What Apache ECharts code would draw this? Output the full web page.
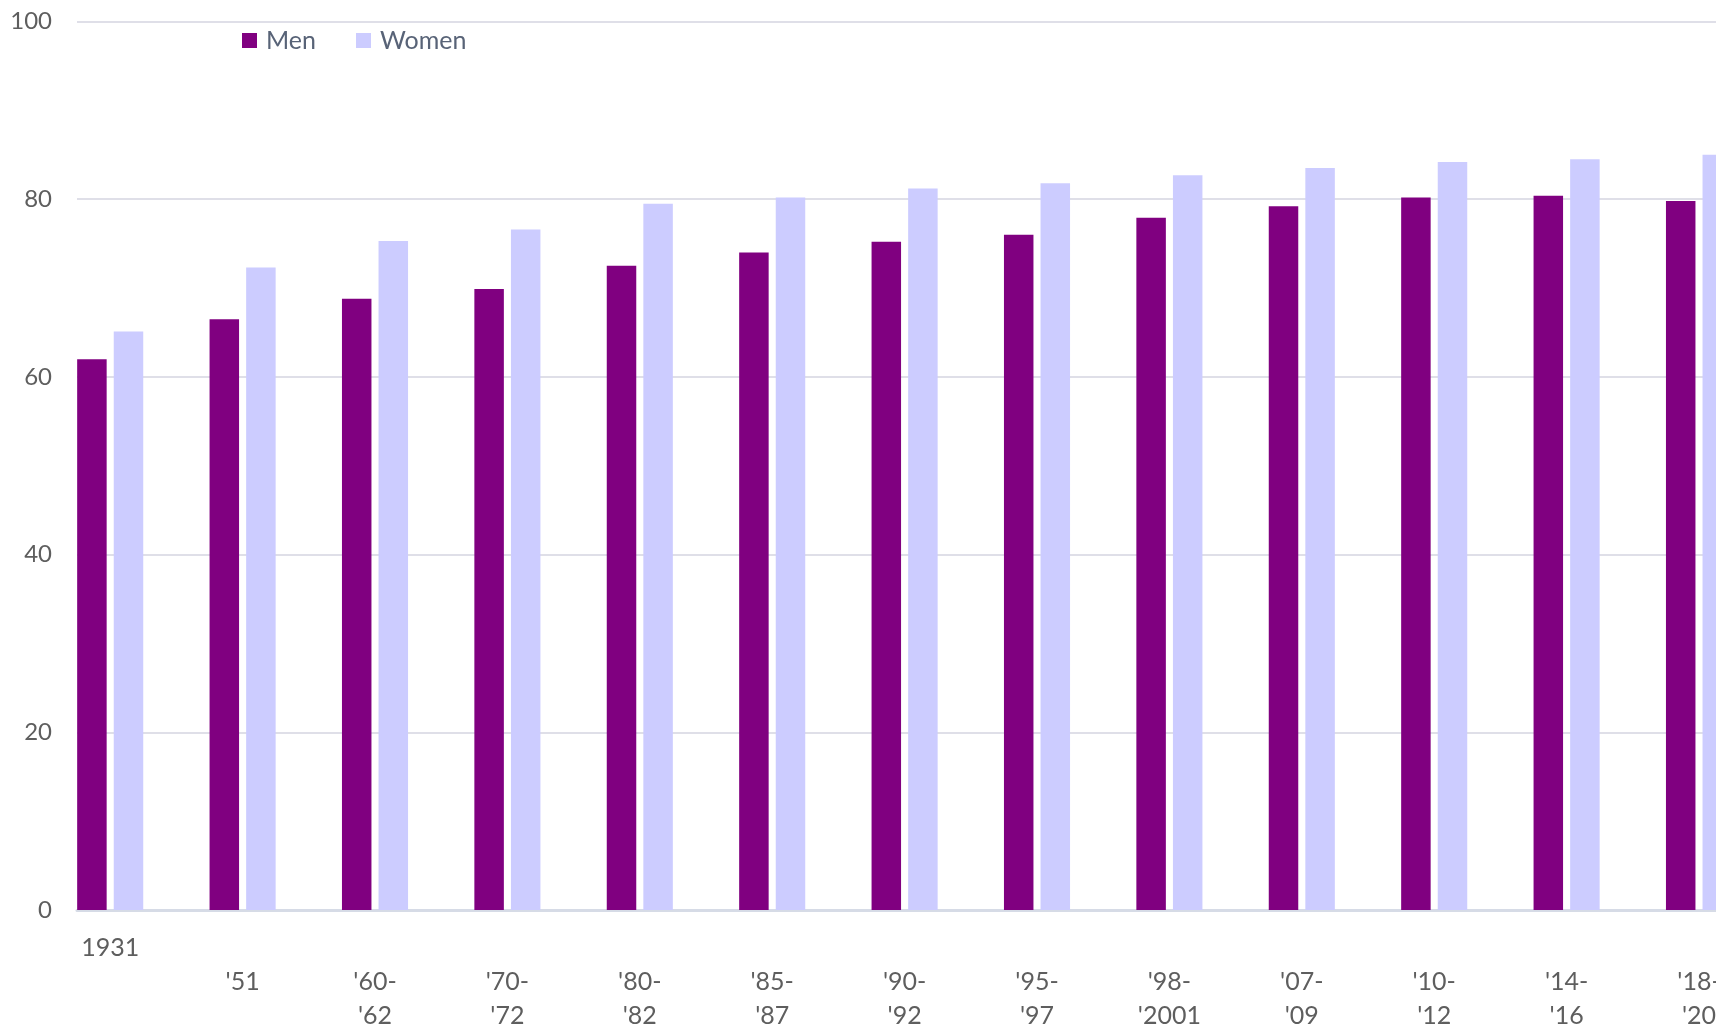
<!DOCTYPE html>
<html>
<head>
<meta charset="utf-8">
<script src="https://cdn.jsdelivr.net/npm/echarts@6/dist/echarts.min.js"></script>
<style>
  html, body { margin: 0; padding: 0; background: #ffffff; }
  #chart { width: 1716px; height: 1027px; }
</style>
</head>
<body>
<div id="chart"></div>
<script>
// Life expectancy at birth, by period
const categories = ["1931", "'51", "'60-\n'62", "'70-\n'72", "'80-\n'82", "'85-\n'87", "'90-\n'92",
                    "'95-\n'97", "'98-\n'2001", "'07-\n'09", "'10-\n'12", "'14-\n'16", "'18-\n'20"];
const men   = [62.0, 66.5, 68.8, 69.9, 72.5, 74.0, 75.2, 76.0, 77.9, 79.2, 80.2, 80.4, 79.8];
const women = [65.1, 72.3, 75.3, 76.6, 79.5, 80.2, 81.2, 81.8, 82.7, 83.5, 84.2, 84.5, 85.0];
const yTicks = { min: 0, max: 100, interval: 20 };

const FONT = 'Lato, "Open Sans", sans-serif';
const PLOT_TOP = 21.5, PLOT_H = 888.5;
const BAND = 132.4;
const BAR_LEFT = 44;

const chart = echarts.init(document.getElementById('chart'), null, { renderer: 'canvas' });

chart.setOption({
  backgroundColor: '#ffffff',
  animation: false,
  legend: {
    left: 242, top: 28, padding: 0,
    itemWidth: 15, itemHeight: 15, itemGap: 40,
    icon: 'rect',
    textStyle: { fontFamily: FONT, fontSize: 25, color: '#586377', lineHeight: 16, padding: [0, 0, 0, 4] },
    data: ['Men', 'Women']
  },
  grid: [
    // frame: gridlines, value labels and baseline
    { left: 77, top: PLOT_TOP, width: 1720, height: PLOT_H, containLabel: false, outerBoundsMode: 'none' },
    // bars and period labels; the period axis runs on past the right edge
    { left: BAR_LEFT, top: PLOT_TOP, width: BAND * categories.length, height: PLOT_H,
      containLabel: false, outerBoundsMode: 'none' }
  ],
  xAxis: [
    {
      gridIndex: 0, type: 'value', min: 0, max: 1,
      axisLine: { show: true, lineStyle: { color: '#d6dbe6', width: 3 } },
      axisTick: { show: false }, axisLabel: { show: false }, splitLine: { show: false }
    },
    {
      gridIndex: 1, type: 'category', data: categories,
      axisLine: { show: false }, axisTick: { show: false }, splitLine: { show: false },
      axisLabel: {
        interval: 0, margin: 20.5,
        fontFamily: FONT, fontSize: 25, lineHeight: 34, color: '#5e5e5e',
        formatter: (v, i) => (i === 0 ? v : '\n' + v)
      }
    }
  ],
  yAxis: [
    {
      gridIndex: 0, type: 'value', min: yTicks.min, max: yTicks.max, interval: yTicks.interval,
      axisLine: { show: false }, axisTick: { show: false },
      axisLabel: { margin: 25, fontFamily: FONT, fontSize: 24, color: '#5e5e5e' },
      splitLine: { show: true, lineStyle: { color: '#dfdfe8', width: 2 } }
    },
    {
      gridIndex: 1, type: 'value', min: yTicks.min, max: yTicks.max,
      show: false, splitLine: { show: false }
    }
  ],
  series: [
    {
      name: 'Men', type: 'bar', xAxisIndex: 1, yAxisIndex: 1,
      data: men, barWidth: 29.5, barGap: '24%',
      itemStyle: { color: '#800080' }
    },
    {
      name: 'Women', type: 'bar', xAxisIndex: 1, yAxisIndex: 1,
      data: women, barWidth: 29.5, barGap: '24%',
      itemStyle: { color: '#ccccff' }
    }
  ]
});
</script>
</body>
</html>
